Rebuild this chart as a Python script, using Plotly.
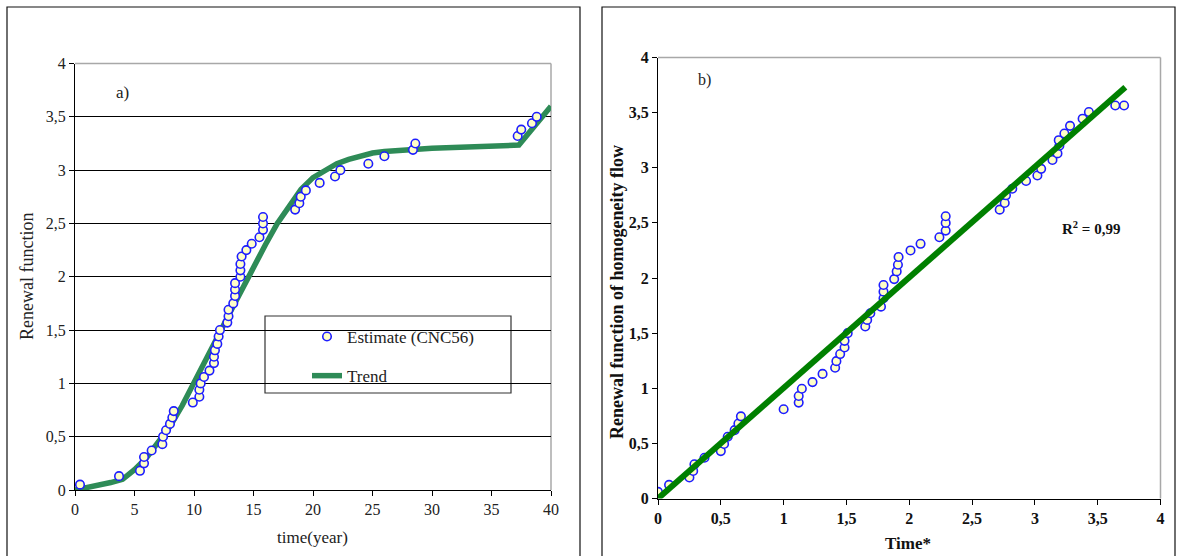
import plotly.graph_objects as go

# ---------------- data: panel a) ----------------
time_a = [0.42, 3.7, 5.46, 5.8, 5.8, 6.44, 7.34, 7.4, 7.65, 7.98, 8.18, 8.3,
          9.9, 10.45, 10.45, 10.56, 10.84, 11.3, 11.68, 11.68, 11.76, 11.96, 12.07, 12.18,
          12.8, 12.9, 12.9, 13.3, 13.45, 13.45, 13.45, 13.9, 13.9, 13.9, 14.0, 14.4,
          14.85, 15.5, 15.8, 15.8, 15.8, 18.5, 18.85, 18.97, 19.4, 20.56, 21.85, 22.3,
          24.65, 26.0, 28.4, 28.6, 37.2, 37.5, 38.4, 38.8]
renewal_a = [0.05, 0.13, 0.18, 0.25, 0.31, 0.37, 0.43, 0.50, 0.56, 0.62, 0.68, 0.74,
             0.82, 0.875, 0.94, 1.0, 1.06, 1.12, 1.19, 1.25, 1.31, 1.37, 1.44, 1.50,
             1.57, 1.63, 1.69, 1.75, 1.82, 1.88, 1.94, 2.0, 2.06, 2.12, 2.19, 2.25,
             2.31, 2.37, 2.44, 2.50, 2.56, 2.63, 2.69, 2.75, 2.81, 2.88, 2.94, 3.0,
             3.06, 3.13, 3.19, 3.25, 3.32, 3.38, 3.44, 3.5]
trend_t = [0, 1, 2, 3, 4, 5, 6, 7, 8, 9, 10, 11, 12, 13, 14, 15, 16, 17, 18, 19, 20,
           21, 22, 23, 24, 25, 26, 28, 30, 37.3, 40]
trend_v = [0.0, 0.02, 0.045, 0.07, 0.1, 0.19, 0.3, 0.44, 0.6, 0.79, 1.0, 1.22, 1.44,
           1.66, 1.88, 2.1, 2.3, 2.5, 2.67, 2.82, 2.93, 3.0, 3.06, 3.1, 3.13, 3.16,
           3.175, 3.195, 3.205, 3.235, 3.6]
xticks_a = [0, 5, 10, 15, 20, 25, 30, 35, 40]
xlabels_a = ["0", "5", "10", "15", "20", "25", "30", "35", "40"]
yticks = [0, 0.5, 1, 1.5, 2, 2.5, 3, 3.5, 4]
ylabels = ["0", "0,5", "1", "1,5", "2", "2,5", "3", "3,5", "4"]

# ---------------- data: panel b) ----------------
time_b = [0.0, 0.088, 0.25, 0.28, 0.29, 0.37, 0.50, 0.526, 0.555, 0.61, 0.64, 0.66,
          1.0, 1.12, 1.12, 1.145, 1.23, 1.31, 1.41, 1.42, 1.45, 1.485, 1.485, 1.51,
          1.65, 1.665, 1.69, 1.775, 1.795, 1.795, 1.795, 1.88, 1.9, 1.91, 1.915, 2.01,
          2.09, 2.24, 2.29, 2.29, 2.29, 2.72, 2.76, 2.77, 2.82, 2.93, 3.02, 3.05,
          3.14, 3.18, 3.195, 3.19, 3.235, 3.28, 3.38, 3.43, 3.64, 3.71]
renewal_b = [0.06, 0.124, 0.19, 0.25, 0.31, 0.37, 0.43, 0.495, 0.56, 0.62, 0.68, 0.745,
             0.81, 0.87, 0.93, 0.995, 1.056, 1.13, 1.186, 1.246, 1.31, 1.37, 1.43, 1.5,
             1.56, 1.62, 1.68, 1.74, 1.816, 1.876, 1.937, 1.99, 2.06, 2.12, 2.19, 2.25,
             2.31, 2.37, 2.43, 2.5, 2.56, 2.62, 2.68, 2.75, 2.81, 2.88, 2.93, 2.99,
             3.07, 3.13, 3.2, 3.25, 3.31, 3.38, 3.445, 3.505, 3.565, 3.565]
fit_x = [0, 3.72]
fit_y = [0, 3.73]
xticks_b = [0, 0.5, 1, 1.5, 2, 2.5, 3, 3.5, 4]
xlabels_b = ["0", "0,5", "1", "1,5", "2", "2,5", "3", "3,5", "4"]

W, H = 1178, 556
def px(x):
    return x / W
def py(y):
    return 1 - y / H

SERIF = "Liberation Serif"
marker_style = dict(symbol="circle", size=8.5, color="#FFFFC8",
                    line=dict(color="#1E1EFF", width=1.6))

fig = go.Figure()
fig.add_trace(go.Scatter(x=trend_t, y=trend_v, mode="lines", name="Trend",
                         line=dict(color="#2E8B57", width=5.5), xaxis="x", yaxis="y",
                         legendgroup="g2", legendrank=2))
fig.add_trace(go.Scatter(x=time_a, y=renewal_a, mode="markers", name="Estimate (CNC56)",
                         marker=marker_style, xaxis="x", yaxis="y",
                         legendgroup="g1", legendrank=1))
fig.add_trace(go.Scatter(x=time_b, y=renewal_b, mode="markers", showlegend=False,
                         marker=marker_style, xaxis="x2", yaxis="y2"))
fig.add_trace(go.Scatter(x=fit_x, y=fit_y, mode="lines", showlegend=False,
                         line=dict(color="#008000", width=6), xaxis="x2", yaxis="y2"))

tickfont_a = dict(family=SERIF, size=16, color="#222")
tickfont_b = dict(family=SERIF, size=16, color="#111", weight="bold")

fig.update_layout(
    width=W, height=H, autosize=False,
    margin=dict(l=0, r=0, t=0, b=0),
    paper_bgcolor="white", plot_bgcolor="white",
    xaxis=dict(domain=[px(75), px(551)], range=[0, 40], tickvals=xticks_a, ticktext=xlabels_a,
               showgrid=False, zeroline=False, showline=True, linecolor="black", linewidth=1,
               ticks="outside", ticklen=5, tickcolor="black", tickfont=tickfont_a,
               anchor="y", automargin=False),
    yaxis=dict(domain=[py(490), py(63.5)], range=[0, 4], tickvals=yticks, ticktext=ylabels,
               showgrid=True, gridcolor="black", gridwidth=1, zeroline=False,
               showline=True, linecolor="black", linewidth=1,
               ticks="outside", ticklen=5, tickcolor="black", tickfont=tickfont_a,
               anchor="x", automargin=False),
    xaxis2=dict(domain=[px(658), px(1160.5)], range=[0, 4], tickvals=xticks_b, ticktext=xlabels_b,
                showgrid=False, zeroline=False, showline=True, linecolor="black", linewidth=1,
                ticks="outside", ticklen=5, tickcolor="black", tickfont=tickfont_b,
                anchor="y2", automargin=False),
    yaxis2=dict(domain=[py(498.5), py(57.5)], range=[0, 4], tickvals=yticks, ticktext=ylabels,
                showgrid=False, zeroline=False, showline=True, linecolor="black", linewidth=1,
                ticks="outside", ticklen=5, tickcolor="black", tickfont=tickfont_b,
                anchor="x2", automargin=False),
    showlegend=True,
    legend=dict(x=px(307), y=py(319), xanchor="left", yanchor="top",
                bgcolor="rgba(0,0,0,0)", borderwidth=0,
                font=dict(family=SERIF, size=17, color="#222"),
                traceorder="grouped", tracegroupgap=14),
)

shapes = []
# outer panel frames
shapes.append(dict(type="rect", xref="paper", yref="paper", x0=px(7), x1=px(580),
                   y0=-0.1, y1=py(7), line=dict(color="#111", width=1.2), layer="below"))
shapes.append(dict(type="rect", xref="paper", yref="paper", x0=px(602), x1=px(1175),
                   y0=-0.1, y1=py(7), line=dict(color="#111", width=1.2), layer="below"))
# gray plot-area borders (top & right)
for xr, yr in (("x domain", "y domain"), ("x2 domain", "y2 domain")):
    shapes.append(dict(type="line", xref=xr, yref=yr, x0=0, x1=1, y0=1, y1=1,
                       line=dict(color="#A8A8A8", width=1.5), layer="above"))
    shapes.append(dict(type="line", xref=xr, yref=yr, x0=1, x1=1, y0=0, y1=1,
                       line=dict(color="#A8A8A8", width=1.5), layer="below"))
# legend box
shapes.append(dict(type="rect", xref="paper", yref="paper", x0=px(265), x1=px(511),
                   y0=py(393), y1=py(316), fillcolor="white",
                   line=dict(color="#333", width=1.2), layer="between"))
fig.update_layout(shapes=shapes)

def note(text, x, y, size, bold=False, angle=0, color="#222"):
    f = dict(family=SERIF, size=size, color=color)
    if bold:
        f["weight"] = "bold"
    return dict(text=text, x=px(x), y=py(y), xref="paper", yref="paper", showarrow=False,
                xanchor="center", yanchor="middle", textangle=angle, font=f)

ann = [
    note("a)", 122, 93, 17),
    note("b)", 704, 80, 16),
    note("R<sup>2</sup> = 0,99", 1091, 228, 15, bold=True, color="#111"),
    note("Renewal function", 27, 277, 18, angle=-90),
    note("time(year)", 312, 537, 17),
    note("Renewal function of homogeneity flow", 617, 292, 18, bold=True, angle=-90, color="#111"),
    note("Time*", 908, 543, 17, bold=True, color="#111"),
]
fig.update_layout(annotations=ann)

fig.write_html("out.html", config={"displayModeBar": False},
               post_script="document.body.style.margin='0px';")
